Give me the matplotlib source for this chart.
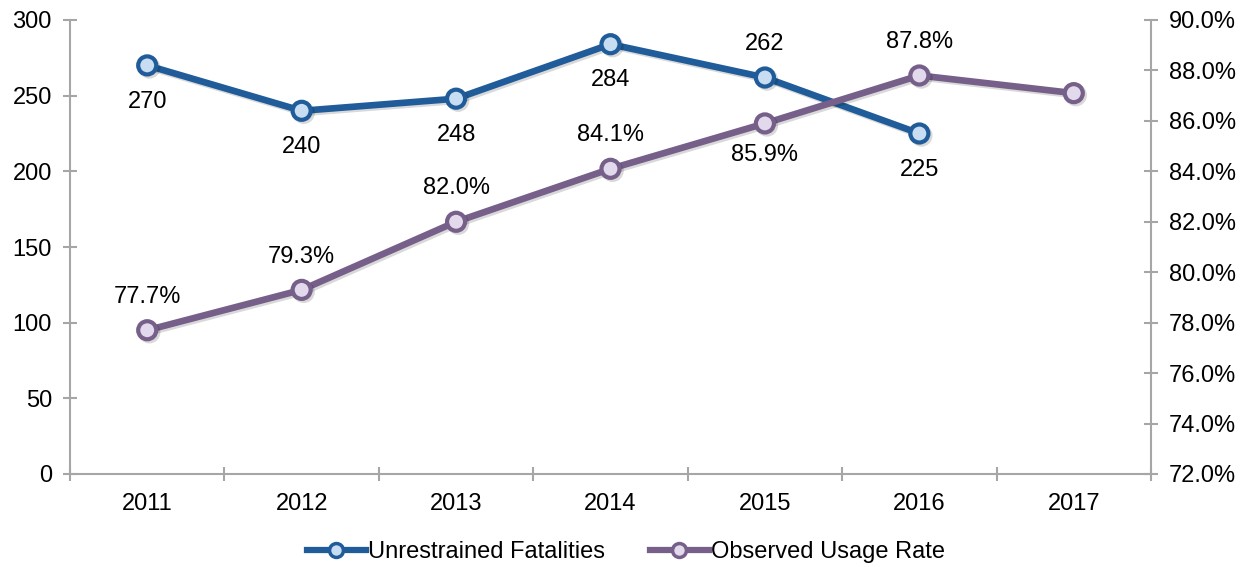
import matplotlib
matplotlib.use("Agg")
import matplotlib.pyplot as plt
import matplotlib.patheffects as pe
from matplotlib.ticker import FuncFormatter, MultipleLocator
from matplotlib.lines import Line2D

years = ["2011", "2012", "2013", "2014", "2015", "2016", "2017"]
fatalities = [270, 240, 248, 284, 262, 225]
usage_rate = [77.7, 79.3, 82.0, 84.1, 85.9, 87.8, 87.1]
fat_label_pos = ["below", "below", "below", "below", "above", "below"]
rate_label_pos = ["above", "above", "above", "above", "below", "above"]

plt.rcParams['font.family'] = ['Liberation Sans', 'DejaVu Sans']

BLUE = "#1F5C99"
BLUE_FACE = "#C9DDF2"
PURPLE = "#76608A"
PURPLE_FACE = "#E2DAEC"
GRAY = "#A6A6A6"
FS = 17

fig = plt.figure(figsize=(12.52, 5.67), dpi=100)
ax = fig.add_axes([70/1252, (567-474)/567, (1151-70)/1252, (474-20)/567])
ax2 = ax.twinx()

shadow = [pe.SimpleLineShadow(offset=(1.5, -1.5), shadow_color='k', alpha=0.15), pe.Normal()]

x_f = list(range(len(fatalities)))
x_r = list(range(len(usage_rate)))
ax.plot(x_f, fatalities, color=BLUE, lw=4.8, marker='o', ms=13, mfc=BLUE_FACE,
        mec=BLUE, mew=3, zorder=3, path_effects=shadow, solid_capstyle='round')
ax2.plot(x_r, usage_rate, color=PURPLE, lw=4.8, marker='o', ms=13, mfc=PURPLE_FACE,
         mec=PURPLE, mew=3, zorder=3, path_effects=shadow, solid_capstyle='round')

for xi, v, p in zip(x_f, fatalities, fat_label_pos):
    off = 24 if p == "above" else -26
    ax.annotate(f"{v}", (xi, v), xytext=(0, off), textcoords='offset points',
                ha='center', va='center', fontsize=FS, color='black')
for xi, v, p in zip(x_r, usage_rate, rate_label_pos):
    off = 24 if p == "above" else -23
    ax2.annotate(f"{v:.1f}%", (xi, v), xytext=(0, off), textcoords='offset points',
                 ha='center', va='center', fontsize=FS, color='black')

ax.set_xlim(-0.5, len(years) - 0.5)
ax.set_ylim(0, 300)
ax2.set_ylim(72, 90)
ax.yaxis.set_major_locator(MultipleLocator(50))
ax2.yaxis.set_major_locator(MultipleLocator(2))
ax2.yaxis.set_major_formatter(FuncFormatter(lambda v, p: f"{v:.1f}%"))

ax.set_xticks(range(len(years)))
ax.set_xticklabels(years)
ax.set_xticks([i - 0.5 for i in range(len(years) + 1)], minor=True)
ax.tick_params(axis='x', which='major', length=0, labelsize=FS, pad=14)
ax.tick_params(axis='x', which='minor', length=10, direction='inout', color=GRAY, width=1.5)
ax.tick_params(axis='y', length=10, direction='inout', color=GRAY, width=1.5, labelsize=FS, pad=8)
ax2.tick_params(axis='y', length=10, direction='inout', color=GRAY, width=1.5, labelsize=FS, pad=8)

for a in (ax, ax2):
    a.spines['top'].set_visible(False)
    for s in ('left', 'right', 'bottom'):
        a.spines[s].set_color(GRAY)
        a.spines[s].set_linewidth(1.5)
ax.spines['right'].set_visible(False)
ax2.spines['left'].set_visible(False)
ax2.spines['bottom'].set_visible(False)

handles = [
    Line2D([], [], color=BLUE, lw=4.5, marker='o', ms=10, mfc=BLUE_FACE, mec=BLUE, mew=2.5),
    Line2D([], [], color=PURPLE, lw=4.5, marker='o', ms=10, mfc=PURPLE_FACE, mec=PURPLE, mew=2.5),
]
fig.legend(handles, ["Unrestrained Fatalities", "Observed Usage Rate"], loc='center',
           bbox_to_anchor=(0.5, 1 - 552/567), ncol=2, frameon=False, fontsize=FS,
           handlelength=2.5, handletextpad=0.1, columnspacing=1.9)

fig.savefig("out.png", dpi=100)
